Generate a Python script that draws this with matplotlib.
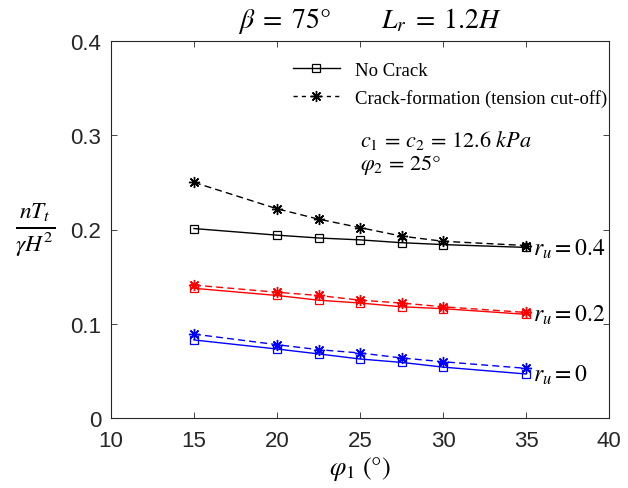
import matplotlib.pyplot as plt
from matplotlib.lines import Line2D

plt.rcParams['mathtext.fontset'] = 'stix'
plt.rcParams['font.family'] = 'Liberation Sans'

phi1 = [15, 20, 22.5, 25, 27.5, 30, 35]

# no crack (solid, squares)
nocrack_04 = [0.201, 0.194, 0.191, 0.189, 0.186, 0.184, 0.181]
nocrack_02 = [0.1376, 0.130, 0.125, 0.122, 0.118, 0.116, 0.110]
nocrack_00 = [0.0828, 0.0732, 0.068, 0.0626, 0.059, 0.054, 0.0467]

# crack formation (dashed, asterisks)
crack_04 = [0.250, 0.222, 0.211, 0.202, 0.193, 0.1875, 0.183]
crack_02 = [0.141, 0.1334, 0.130, 0.125, 0.122, 0.118, 0.112]
crack_00 = [0.089, 0.0778, 0.0725, 0.069, 0.0637, 0.0597, 0.0527]

ru_labels = ['0.4', '0.2', '0']
colors = ['black', 'red', 'blue']

fig = plt.figure(figsize=(6.28, 4.89), dpi=100)
ax = fig.add_axes([111 / 628, 70 / 489, 498 / 628, 377 / 489])

star = (8, 2, 0)
for nc, cr, c, lab in zip([nocrack_04, nocrack_02, nocrack_00],
                          [crack_04, crack_02, crack_00], colors, ru_labels):
    ax.plot(phi1, nc, '-', color=c, lw=1.0, marker='s', ms=6, mfc='none', mew=0.9)
    ax.plot(phi1, cr, '--', color=c, lw=1.0, marker=star, ms=8, mew=1.0, dashes=(5, 3))
    ax.text(35.4, nc[-1] - 0.0005, r'$r_u = $' + lab, fontsize=17, va='center',
            ha='left', family='STIXGeneral')

ax.set_xlim(10, 40)
ax.set_ylim(0, 0.4)
ax.set_xticks([10, 15, 20, 25, 30, 35, 40])
ax.set_yticks([0, 0.1, 0.2, 0.3, 0.4])
ax.set_yticklabels(['0', '0.1', '0.2', '0.3', '0.4'])
ax.tick_params(direction='in', top=True, right=True, labelsize=16,
               colors='#262626', length=4, width=0.6)
ax.tick_params(axis='x', pad=9)
ax.tick_params(axis='y', pad=7)
for s in ax.spines.values():
    s.set_color('#262626')
    s.set_linewidth(0.8)

ax.set_xlabel(r'$\varphi_1\ (°)$', fontsize=19, labelpad=2)
ax.set_ylabel(r'$\frac{nT_t}{\gamma H^2}$', fontsize=24, rotation=0,
              labelpad=25, va='center')
ax.set_title(r'$\beta\;=\;75°\qquad\;\; L_r\;=\;1.2H$', fontsize=20, pad=10,
             x=0.52)

handles = [
    Line2D([], [], color='black', lw=1.0, marker='s', ms=6, mfc='none', mew=0.9),
    Line2D([], [], color='black', lw=1.0, ls='--', marker=star, ms=8, dashes=(3, 3)),
]
ax.legend(handles, ['No Crack', 'Crack-formation (tension cut-off)'],
          loc='upper right', bbox_to_anchor=(1.03, 0.99), frameon=False,
          prop={'family': 'Liberation Serif', 'size': 13.5}, handlelength=2.5,
          labelspacing=0.55)

ax.text(25, 0.296, r'$c_1\,=\,c_2\,=\,12.6\ kPa$', fontsize=16, va='center')
ax.text(25, 0.269, r'$\varphi_2\,=\,25°$', fontsize=16, va='center')

fig.savefig('out.png', dpi=100)
